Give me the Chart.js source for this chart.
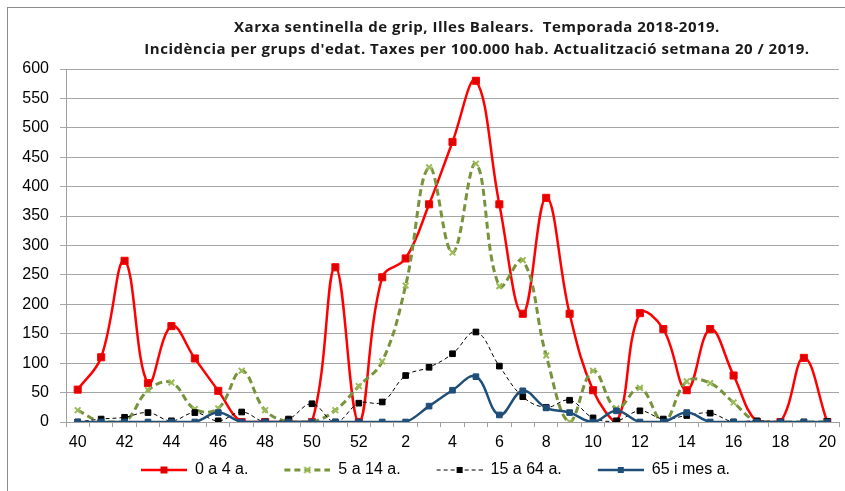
<!DOCTYPE html>
<html>
<head>
<meta charset="utf-8">
<script src="https://cdn.jsdelivr.net/npm/chart.js@4.4.1/dist/chart.umd.min.js"></script>
<style>
  html, body { margin: 0; padding: 0; background: #fff; }
  #wrap { position: relative; width: 845px; height: 491px; overflow: hidden; }
  #frame { position: absolute; left: 7px; top: 7px; width: 900px; height: 600px; border: 1px solid #8c8c8c; }
  #title {
    position: absolute; left: 0; top: 15px; width: 845px; box-sizing: border-box;
    padding-left: 109px; text-align: center;
    font: bold 15px "Open Sans", sans-serif; line-height: 22px; color: #1a1a1a;
    letter-spacing: 0.5px;
  }
  canvas { position: absolute; left: 0; top: 0; }
</style>
</head>
<body>
<div id="wrap">
  <div id="frame"></div>
  <canvas id="chart" width="845" height="491"></canvas>
  <div id="title">Xarxa sentinella de grip, Illes Balears.&nbsp; Temporada 2018-2019.<br>Incidència per grups d'edat. Taxes per 100.000 hab. Actualització setmana 20 / 2019.</div>
</div>
<script>
// Setmanes epidemiològiques (temporada 2018-2019)
const weeks = ['40','41','42','43','44','45','46','47','48','49','50','51','52',
  '1','2','3','4','5','6','7','8','9','10','11','12','13','14','15','16','17','18','19','20'];

// Taxes per 100.000 hab.
const age0to4 = [55, 110, 274, 66, 163, 108, 53, 0, 0, 0, 0, 263, 0,
  246, 278, 370, 476, 580, 370, 184, 381, 184, 54, 0, 185, 158, 54, 158, 79, 0, 0, 109, 0];
const age5to14 = [20, 0, 0, 54, 67, 22, 23, 87, 20, 0, 0, 20, 61,
  103, 232, 433, 288, 439, 231, 275, 113, 0, 87, 23, 58, 0, 69, 66, 33, 0, 0, 0, 0];
const age15to64 = [0, 5, 8, 16, 2, 16, 2, 17, 0, 5, 31, 0, 32,
  34, 79, 93, 116, 153, 95, 43, 25, 37, 7, 2, 19, 5, 11, 15, 0, 2, 0, 0, 1];
const age65plus = [0, 0, 0, 0, 0, 0, 16, 0, 0, 0, 0, 0, 0,
  0, 0, 27, 54, 77, 12, 53, 24, 16, 0, 19, 0, 0, 16, 0, 0, 0, 0, 0, 0];

const seriesNames = ['0 a 4 a.', '5 a 14 a.', '15 a 64 a.', '65 i mes a.'];

const yMax = 600;
const yStep = 50;

const FONT = 'Liberation Sans, Arial, sans-serif';

// legend sample: line + marker drawn into a small canvas (left part left blank as spacing)
function legendSample(color, markerColor, width, dash, marker, size) {
  const c = document.createElement('canvas');
  c.width = 72; c.height = 14;
  const g = c.getContext('2d');
  g.strokeStyle = color;
  g.lineWidth = width;
  g.setLineDash(dash);
  g.beginPath();
  g.moveTo(26, 7); g.lineTo(72, 7);
  g.stroke();
  g.setLineDash([]);
  const mx = 49, my = 7;
  if (marker === 'rect') {
    g.fillStyle = markerColor;
    g.fillRect(mx - size / 2, my - size / 2, size, size);
  } else {
    g.strokeStyle = markerColor;
    g.lineWidth = 2;
    g.beginPath();
    g.moveTo(mx - size / 2, my - size / 2); g.lineTo(mx + size / 2, my + size / 2);
    g.moveTo(mx + size / 2, my - size / 2); g.lineTo(mx - size / 2, my + size / 2);
    g.stroke();
  }
  return c;
}

const samples = [
  legendSample('#ff0000', '#e00000', 2.5, [], 'rect', 7),
  legendSample('#77933c', '#9bbb59', 3, [6, 4], 'x', 6),
  legendSample('#000000', '#000000', 1, [4, 3], 'rect', 6),
  legendSample('#1f4e79', '#1f4e79', 2.5, [], 'rect', 6)
];

const data = {
  labels: weeks,
  datasets: [
    {
      label: seriesNames[0], data: age0to4, order: 3,
      borderColor: '#ff0000', borderWidth: 2.5, tension: 0.4,
      pointStyle: 'rect', pointRadius: 5, pointBackgroundColor: '#e00000', pointBorderColor: '#ff0000', pointBorderWidth: 1
    },
    {
      label: seriesNames[1], data: age5to14, order: 2,
      borderColor: '#77933c', borderWidth: 3, borderDash: [7, 4], tension: 0.4,
      pointStyle: 'crossRot', pointRadius: 4, pointBorderColor: '#9bbb59', pointBorderWidth: 2
    },
    {
      label: seriesNames[2], data: age15to64, order: 1,
      borderColor: '#000000', borderWidth: 1, borderDash: [4, 3], tension: 0.4,
      pointStyle: 'rect', pointRadius: 4, pointBackgroundColor: '#000000', pointBorderColor: '#000000', pointBorderWidth: 1
    },
    {
      label: seriesNames[3], data: age65plus, order: 0,
      borderColor: '#1f4e79', borderWidth: 2.5, tension: 0.4,
      pointStyle: 'rect', pointRadius: 4, pointBackgroundColor: '#1f4e79', pointBorderColor: '#1f4e79', pointBorderWidth: 1
    }
  ]
};

new Chart(document.getElementById('chart'), {
  type: 'line',
  data: data,
  options: {
    responsive: false,
    animation: false,
    layout: { padding: { top: 69, left: 0, right: 0, bottom: 3 } },
    plugins: {
      title: { display: false },
      tooltip: { enabled: false },
      legend: {
        position: 'bottom',
        labels: {
          usePointStyle: true,
          pointStyleWidth: 72,
          padding: 10,
          color: '#000',
          font: { size: 16, family: FONT },
          generateLabels: (chart) => chart.data.datasets.map((ds, i) => ({
            text: ds.label,
            pointStyle: samples[i],
            fillStyle: 'transparent',
            strokeStyle: 'transparent',
            lineWidth: 0,
            fontColor: '#000',
            datasetIndex: i,
            hidden: false
          }))
        }
      }
    },
    scales: {
      x: {
        offset: true,
        afterFit: (s) => { s.height = 30; },
        grid: { display: true, drawOnChartArea: false, offset: true, tickLength: 5, color: '#a0a0a0' },
        border: { color: '#a0a0a0', width: 1 },
        ticks: {
          autoSkip: false, maxRotation: 0, padding: 6, color: '#000',
          font: { size: 16, family: FONT },
          callback: function (v, i) { return i % 2 === 0 ? this.getLabelForValue(v) : ''; }
        }
      },
      y: {
        min: 0, max: yMax,
        afterFit: (s) => { s.width = 66; },
        grid: { color: '#a6a6a6', lineWidth: 1, tickLength: 6 },
        border: { color: '#a0a0a0', width: 1 },
        ticks: { stepSize: yStep, padding: 11, color: '#000', font: { size: 16, family: FONT } }
      }
    }
  }
});
</script>
</body>
</html>
